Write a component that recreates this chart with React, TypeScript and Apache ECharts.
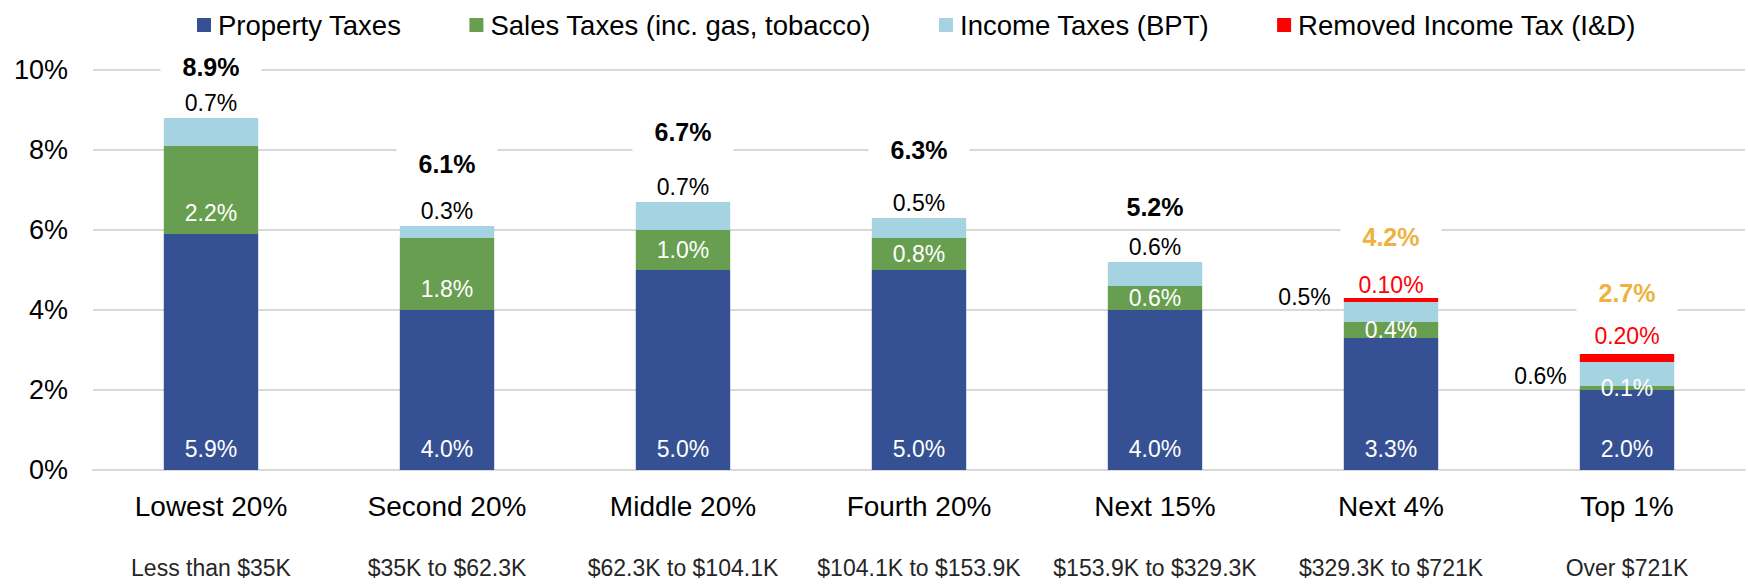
import React, { useEffect, useRef } from "react";
import * as echarts from "echarts";

const categories = ["Lowest 20%", "Second 20%", "Middle 20%", "Fourth 20%", "Next 15%", "Next 4%", "Top 1%"];
const incomeRanges = [
  "Less than $35K",
  "$35K to $62.3K",
  "$62.3K to $104.1K",
  "$104.1K to $153.9K",
  "$153.9K to $329.3K",
  "$329.3K to $721K",
  "Over $721K",
];
const propertyTaxes = [5.9, 4.0, 5.0, 5.0, 4.0, 3.3, 2.0];
const salesTaxes = [2.2, 1.8, 1.0, 0.8, 0.6, 0.4, 0.1];
const incomeTaxes = [0.7, 0.3, 0.7, 0.5, 0.6, 0.5, 0.6];
const removedIncomeTax: (number | null)[] = [null, null, null, null, null, 0.1, 0.2];
const totals = [8.9, 6.1, 6.7, 6.3, 5.2, 4.2, 2.7];
const yMin = 0;
const yMax = 10;
const yStep = 2;

const FONT = "'Liberation Sans', Arial, sans-serif";
const C_PROP = "#355193";
const C_SALES = "#689E4F";
const C_INC = "#A6D3E1";
const C_REM = "#FF0000";
const C_GOLD = "#EEB240";

// label styling tweaks (pixels)
const totalLift = [51, 62, 70, 68, 55, 61, 61];
const incomeSideOffset = [0, 0, 0, 0, 0, -15, 2];
const removedDistance = [0, 0, 0, 0, 0, 2, 7];

export default function App() {
  const ref = useRef<HTMLDivElement>(null);

  useEffect(() => {
    document.body.style.margin = "0";
    if (!ref.current) return;
    const chart = echarts.init(ref.current, undefined, { renderer: "svg" });

    const dataLabel = { fontFamily: FONT, fontSize: 23 };

    const propData = propertyTaxes.map((v) => ({ value: v }));
    const salesData = salesTaxes.map((v) => ({
      value: v,
      label:
        v >= 1.5
          ? { position: "insideBottom", distance: 10 }
          : { position: "inside" },
    }));
    const incomeData = incomeTaxes.map((v, i) => ({
      value: v,
      label:
        removedIncomeTax[i] != null
          ? { position: "left", distance: 13, offset: [0, incomeSideOffset[i]] }
          : { position: "top", distance: 4 },
    }));
    const removedData = removedIncomeTax.map((v, i) => ({
      value: v,
      label: { show: v != null, position: "top", distance: removedDistance[i] },
    }));
    const stackTops = categories.map(
      (_, i) => propertyTaxes[i] + salesTaxes[i] + incomeTaxes[i] + (removedIncomeTax[i] ?? 0)
    );
    const totalData = stackTops.map((v, i) => ({
      value: v,
      label: {
        offset: [0, -totalLift[i]],
        color: removedIncomeTax[i] != null ? C_GOLD : "#000000",
      },
    }));

    chart.setOption({
      animation: false,
      legend: {
        data: [
          "Property Taxes",
          "Sales Taxes (inc. gas, tobacco)",
          "Income Taxes (BPT)",
          "Removed Income Tax (I&D)",
        ],
        left: 192,
        top: 6,
        icon: "rect",
        itemWidth: 14,
        itemHeight: 14,
        itemGap: 68,
        textStyle: { fontFamily: FONT, fontSize: 27.5, color: "#000", padding: [0, 0, 0, 2] },
      },
      grid: { left: 93, right: 3, top: 70, bottom: 114 },
      xAxis: {
        type: "category",
        data: categories,
        axisTick: { show: false },
        axisLine: { lineStyle: { color: "#D9D9D9", width: 2 } },
        axisLabel: {
          interval: 0,
          margin: 5,
          formatter: (val: string, idx: number) => `{a|${val}}\n{b|${incomeRanges[idx]}}`,
          rich: {
            a: { fontFamily: FONT, fontSize: 28, color: "#000", lineHeight: 62 },
            b: { fontFamily: FONT, fontSize: 23, color: "#262626", lineHeight: 62 },
          },
        },
      },
      yAxis: {
        type: "value",
        min: yMin,
        max: yMax,
        interval: yStep,
        axisLabel: {
          formatter: "{value}%",
          fontFamily: FONT,
          fontSize: 27,
          color: "#000",
          margin: 25,
        },
        splitLine: { lineStyle: { color: "#D9D9D9", width: 2 } },
        axisLine: { show: false },
        axisTick: { show: false },
      },
      series: [
        {
          name: "Property Taxes",
          type: "bar",
          stack: "tax",
          barWidth: "40%",
          itemStyle: { color: C_PROP },
          label: {
            show: true,
            position: "insideBottom",
            distance: 10,
            color: "#fff",
            ...dataLabel,
            formatter: (p: any) => p.value.toFixed(1) + "%",
          },
          data: propData,
        },
        {
          name: "Sales Taxes (inc. gas, tobacco)",
          type: "bar",
          stack: "tax",
          itemStyle: { color: C_SALES },
          label: {
            show: true,
            color: "#fff",
            ...dataLabel,
            formatter: (p: any) => p.value.toFixed(1) + "%",
          },
          data: salesData,
        },
        {
          name: "Income Taxes (BPT)",
          type: "bar",
          stack: "tax",
          itemStyle: { color: C_INC },
          label: {
            show: true,
            color: "#000",
            ...dataLabel,
            formatter: (p: any) => p.value.toFixed(1) + "%",
          },
          data: incomeData,
        },
        {
          name: "Removed Income Tax (I&D)",
          type: "bar",
          stack: "tax",
          itemStyle: { color: C_REM },
          label: {
            color: C_REM,
            ...dataLabel,
            formatter: (p: any) => (p.value == null ? "" : p.value.toFixed(2) + "%"),
          },
          data: removedData,
        },
        {
          name: "totals",
          type: "scatter",
          symbolSize: 1,
          itemStyle: { color: "rgba(0,0,0,0)", opacity: 1 },
          silent: true,
          z: 5,
          label: {
            show: true,
            position: "inside",
            color: "#000000",
            fontFamily: FONT,
            fontSize: 25,
            fontWeight: "bold",
            backgroundColor: "#fff",
            lineHeight: 24,
            padding: [8, 22],
            formatter: (p: any) => totals[p.dataIndex].toFixed(1) + "%",
          },
          data: totalData,
        },
      ],
    });

    return () => chart.dispose();
  }, []);

  return <div ref={ref} style={{ width: 1748, height: 584 }} />;
}
